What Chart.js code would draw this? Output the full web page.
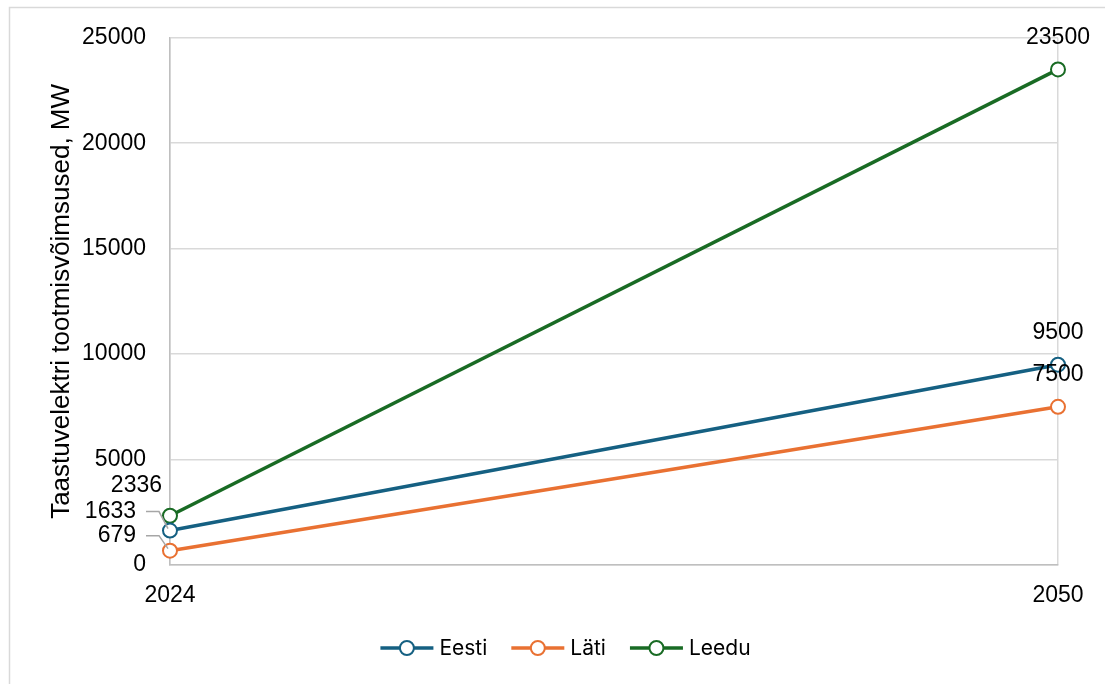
<!DOCTYPE html>
<html>
<head>
<meta charset="utf-8">
<script src="https://cdn.jsdelivr.net/npm/chart.js@4.4.1/dist/chart.umd.min.js"></script>
<style>
  html, body { margin: 0; padding: 0; background: #ffffff; }
  #wrap { width: 1105px; height: 684px; position: relative; }
</style>
</head>
<body>
<div id="wrap"><canvas id="chart" width="1105" height="684"></canvas></div>
<script>
// Installed renewable generation capacity, MW
const years = ['2024', '2050'];
const eesti = [1633, 9500];
const lati = [679, 7500];
const leedu = [2336, 23500];
const yTicks = [0, 5000, 10000, 15000, 20000, 25000];
const seriesNames = ['Eesti', 'Läti', 'Leedu'];
const seriesColors = ['#156082', '#E97132', '#196B24'];

const TEXT_FAMILY = '"Liberation Sans", Arial, sans-serif';
const TICK_FONT = { family: TEXT_FAMILY, size: 23 };
const TITLE_FONT = { family: TEXT_FAMILY, size: 26 };
const LEGEND_FONT = '21px Inter, "Noto Sans", sans-serif';
const GRID = '#d9d9d9';
const AXIS = '#bfbfbf';

function makeSet(i, values) {
  return {
    label: seriesNames[i],
    data: values,
    borderColor: seriesColors[i],
    backgroundColor: '#ffffff',
    borderWidth: 3.5,
    pointRadius: 7,
    pointHoverRadius: 7,
    pointBorderWidth: 2,
    pointBackgroundColor: '#ffffff',
    pointBorderColor: seriesColors[i],
    tension: 0
  };
}

// Light frame around the figure
const framePlugin = {
  id: 'frame',
  beforeDraw(chart) {
    const ctx = chart.ctx;
    ctx.save();
    ctx.strokeStyle = '#d9d9d9';
    ctx.lineWidth = 1.5;
    ctx.beginPath();
    ctx.moveTo(9.5, chart.height);
    ctx.lineTo(9.5, 7.5);
    ctx.lineTo(chart.width, 7.5);
    ctx.stroke();
    ctx.restore();
  }
};

// Value labels beside the first and last points
const valueLabels = {
  id: 'valueLabels',
  afterDatasetsDraw(chart) {
    const ctx = chart.ctx;
    const x = chart.scales.x, y = chart.scales.y;
    ctx.save();
    ctx.font = '23px ' + TEXT_FAMILY;
    ctx.fillStyle = '#000000';
    ctx.textBaseline = 'middle';

    // end values, centred above the points
    ctx.textAlign = 'center';
    chart.data.datasets.forEach((ds) => {
      const last = ds.data.length - 1;
      const px = x.getPixelForValue(last);
      const py = y.getPixelForValue(ds.data[last]);
      ctx.fillText(String(ds.data[last]), px, py - 32);
    });

    // start values, to the left of the axis, two of them with leader lines
    ctx.textAlign = 'right';
    const x0 = x.getPixelForValue(0);
    const leedu0 = y.getPixelForValue(leedu[0]);
    ctx.fillText(String(leedu[0]), x0 - 8, leedu0 - 30);

    const leaders = [
      { v: eesti[0], dy: -19 },
      { v: lati[0], dy: -15 }
    ];
    ctx.strokeStyle = '#a6a6a6';
    ctx.lineWidth = 1.5;
    leaders.forEach((l) => {
      const py = y.getPixelForValue(l.v);
      const ly = py + l.dy;
      ctx.fillText(String(l.v), x0 - 34, ly);
      ctx.beginPath();
      ctx.moveTo(x0 - 24, ly);
      ctx.lineTo(x0 - 11, ly);
      ctx.lineTo(x0 - 2, py - 2);
      ctx.stroke();
    });
    ctx.restore();
  }
};

// Legend row below the plot
const legendRow = {
  id: 'legendRow',
  afterDraw(chart) {
    const ctx = chart.ctx;
    ctx.save();
    ctx.font = LEGEND_FONT;
    ctx.textBaseline = 'middle';
    ctx.textAlign = 'left';
    const lineLen = 53, gapText = 6, gapItem = 24, cy = 648;
    const items = chart.data.datasets.map((ds) => ({
      ds, w: ctx.measureText(ds.label).width
    }));
    const total = items.reduce((s, it) => s + lineLen + gapText + it.w, 0) + gapItem * (items.length - 1);
    let cx = 565.5 - total / 2;
    items.forEach((it) => {
      const c = it.ds.borderColor;
      ctx.strokeStyle = c;
      ctx.lineWidth = 3.5;
      ctx.beginPath();
      ctx.moveTo(cx, cy);
      ctx.lineTo(cx + lineLen, cy);
      ctx.stroke();
      ctx.beginPath();
      ctx.arc(cx + lineLen / 2, cy, 7, 0, Math.PI * 2);
      ctx.fillStyle = '#ffffff';
      ctx.fill();
      ctx.lineWidth = 2;
      ctx.stroke();
      ctx.fillStyle = '#000000';
      ctx.fillText(it.ds.label, cx + lineLen + gapText, cy + 1);
      cx += lineLen + gapText + it.w + gapItem;
    });
    ctx.restore();
  }
};

new Chart(document.getElementById('chart'), {
  type: 'line',
  data: {
    labels: years,
    datasets: [makeSet(0, eesti), makeSet(1, lati), makeSet(2, leedu)]
  },
  options: {
    responsive: false,
    animation: false,
    events: [],
    layout: { padding: { left: 9, right: 47, top: 37, bottom: 0 } },
    plugins: {
      legend: { display: false },
      tooltip: { enabled: false }
    },
    scales: {
      x: {
        type: 'category',
        offset: false,
        grid: { color: GRID, lineWidth: 1.5, drawTicks: false },
        border: { color: AXIS, width: 1.5 },
        ticks: { color: '#000000', font: TICK_FONT, padding: 17, maxRotation: 0 },
        afterFit(scale) { scale.height = 119; }
      },
      y: {
        min: 0,
        max: 25000,
        afterBuildTicks(scale) { scale.ticks = yTicks.map((v) => ({ value: v })); },
        grid: { color: GRID, lineWidth: 1.5, drawTicks: false },
        border: { color: AXIS, width: 1.5 },
        ticks: {
          color: '#000000',
          font: TICK_FONT,
          padding: 24,
          callback: (v) => String(v)
        },
        title: {
          display: true,
          text: 'Taastuvelektri tootmisvõimsused, MW',
          color: '#000000',
          font: TITLE_FONT,
          padding: { top: 37, bottom: 0 }
        },
        afterFit(scale) { scale.width = 161; }
      }
    }
  },
  plugins: [framePlugin, valueLabels, legendRow]
});
</script>
</body>
</html>
